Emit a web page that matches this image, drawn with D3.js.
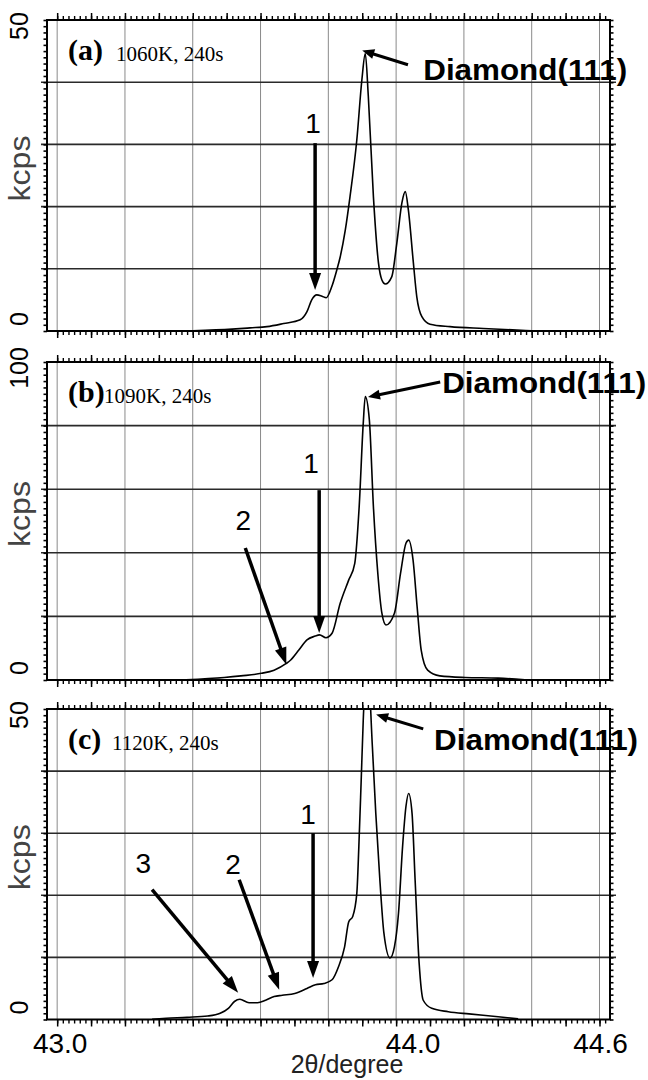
<!DOCTYPE html>
<html>
<head>
<meta charset="utf-8">
<script src="https://cdn.jsdelivr.net/npm/d3@7/dist/d3.min.js"></script>
<style>
  body { margin: 0; background: #fff; }
  text { font-family: "Liberation Sans", Arial, sans-serif; }
</style>
</head>
<body>
<script>
// XRD scans, 2theta (degree) vs intensity (kcps)
var twoThetaA = [43.40, 43.516, 43.569, 43.619, 43.668, 43.717, 43.737, 43.751, 43.766, 43.781, 43.794, 43.810, 43.825, 43.835, 43.850, 43.864, 43.884, 43.899, 43.909, 43.918, 43.933, 43.948, 43.958, 43.968, 43.987, 44.002, 44.017, 44.027, 44.036, 44.051, 44.061, 44.076, 44.100, 44.159, 44.257, 44.40];
var kcpsA = [0.05, 0.3, 0.5, 0.7, 1.2, 1.8, 3.1, 5.0, 5.8, 5.6, 5.35, 7.1, 9.8, 11.9, 16.2, 21.6, 30.7, 40.4, 44.6, 37.7, 21.6, 10.9, 8.2, 7.55, 8.7, 14.1, 20.6, 22.4, 19.5, 10.9, 5.5, 2.3, 1.1, 0.7, 0.4, 0.05];

var twoThetaB = [43.38, 43.493, 43.542, 43.603, 43.640, 43.676, 43.689, 43.713, 43.737, 43.761, 43.774, 43.793, 43.811, 43.835, 43.860, 43.878, 43.891, 43.903, 43.909, 43.921, 43.933, 43.946, 43.958, 43.970, 43.995, 44.013, 44.029, 44.037, 44.050, 44.062, 44.074, 44.093, 44.129, 44.203, 44.301, 44.38];
var kcpsB = [0.1, 0.8, 1.3, 2.1, 3.1, 5.2, 6.3, 9.4, 12.6, 13.8, 14.2, 13.3, 14.7, 24.1, 31.4, 36.7, 54.5, 80.7, 89.1, 81.8, 54.5, 33.5, 21, 17.3, 21, 33.5, 43, 44, 37.7, 23, 9.4, 3.1, 1.3, 0.8, 0.6, 0.1];

var twoThetaC = [43.28, 43.322, 43.383, 43.444, 43.481, 43.505, 43.523, 43.539, 43.566, 43.591, 43.615, 43.640, 43.664, 43.701, 43.737, 43.762, 43.787, 43.811, 43.830, 43.848, 43.860, 43.872, 43.884, 43.890, 43.897, 43.903, 43.915, 43.930, 43.940, 43.952, 43.964, 43.982, 43.995, 44.007, 44.019, 44.029, 44.037, 44.047, 44.056, 44.068, 44.080, 44.105, 44.154, 44.215, 44.301, 44.36];
var kcpsC = [0.05, 0.2, 0.35, 0.56, 1.0, 1.8, 2.9, 3.25, 2.7, 2.7, 3.1, 3.7, 3.9, 4.2, 5.0, 5.6, 5.8, 6.4, 8.5, 11.7, 15.7, 16.6, 20.3, 27.8, 38.6, 48.2, 58, 43.9, 33.2, 22.5, 13.9, 9.9, 11.7, 17.1, 27.8, 34.3, 36.4, 33.2, 22.5, 9.0, 3.1, 1.8, 1.26, 0.9, 0.45, 0.1];

var xTickLabels = ['43.0', '44.0', '44.6'];
var xTickValues = [43.0, 44.0, 44.6];
var xGrid = [43.0, 43.2, 43.4, 43.6, 43.8, 44.0, 44.2, 44.4, 44.6];
var panelLetters = ['(a)', '(b)', '(c)'];
var panelConditions = ['1060K, 240s', '1090K, 240s', '1120K, 240s'];
var yMaxLabels = ['50', '100', '50'];

var W = 648, H = 1080;
var svg = d3.select('body').append('svg').attr('width', W).attr('height', H);
var x = d3.scaleLinear().domain([42.97, 44.631]).range([47, 610]);

var panels = [
  {top: 20,  bottom: 331,  ymax: 50,  step: 1, xs: twoThetaA, ys: kcpsA, condX: 116,
   diamond: {from: [44.035, 42.8], to: [43.900, 45.1], text: [44.080, 40.3]},
   marks: [{n: '1', from: [43.761, 30.2], to: [43.761, 6.6], text: [43.755, 31.8]}]},
  {top: 362, bottom: 680,  ymax: 100, step: 2, xs: twoThetaB, ys: kcpsB, condX: 104,
   diamond: {from: [44.130, 93.7], to: [43.917, 89.0], text: [44.136, 90.2]},
   marks: [{n: '1', from: [43.773, 59.7], to: [43.773, 14.8], text: [43.749, 65.1]},
           {n: '2', from: [43.555, 41.5], to: [43.676, 4.9], text: [43.549, 47.2]}]},
  {top: 709, bottom: 1019.5, ymax: 50, step: 1, xs: twoThetaC, ys: kcpsC, condX: 112,
   diamond: {from: [44.080, 46.8], to: [43.941, 49.1], text: [44.112, 43.4]},
   marks: [{n: '1', from: [43.755, 30.0], to: [43.755, 6.7], text: [43.740, 31.5]},
           {n: '2', from: [43.537, 22.5], to: [43.655, 4.8], text: [43.519, 23.4]},
           {n: '3', from: [43.280, 20.9], to: [43.534, 4.3], text: [43.254, 23.6]}]}
];

var defs = svg.append('defs');

function arrow(g, x0, y0, x1, y1, width, headLen, headW) {
  var dx = x1 - x0, dy = y1 - y0, len = Math.sqrt(dx * dx + dy * dy);
  var ux = dx / len, uy = dy / len;
  var bx = x1 - ux * headLen, by = y1 - uy * headLen;
  g.append('line')
    .attr('x1', x0).attr('y1', y0)
    .attr('x2', bx + ux * 2).attr('y2', by + uy * 2)
    .attr('stroke', '#000').attr('stroke-width', width);
  g.append('path')
    .attr('d', 'M' + x1 + ',' + y1 +
      'L' + (bx - uy * headW / 2) + ',' + (by + ux * headW / 2) +
      'L' + (bx + uy * headW / 2) + ',' + (by - ux * headW / 2) + 'Z')
    .attr('fill', '#000');
}

panels.forEach(function(p, i) {
  var y = d3.scaleLinear().domain([0, p.ymax]).range([p.bottom, p.top]);
  var g = svg.append('g');
  var left = x.range()[0], right = x.range()[1];

  // vertical grid
  g.selectAll('.vg').data(xGrid).enter().append('line')
    .attr('x1', function(d) { return x(d); }).attr('x2', function(d) { return x(d); })
    .attr('y1', p.top).attr('y2', p.bottom)
    .attr('stroke', '#8a8a8a').attr('stroke-width', 1);

  // horizontal grid
  var hg = d3.range(1, 5).map(function(k) { return k * p.ymax / 5; });
  g.selectAll('.hg').data(hg).enter().append('line')
    .attr('x1', left - 6).attr('x2', right + 6)
    .attr('y1', function(d) { return y(d); }).attr('y2', function(d) { return y(d); })
    .attr('stroke', '#2a2a2a').attr('stroke-width', 1.6);

  // x ticks, top and bottom, outward
  var minor = d3.range(0, 98).map(function(k) { return 43 + k / 60; })
    .filter(function(d) { return d <= 44.625; });
  var major = d3.range(0, 17).map(function(k) { return 43 + k / 10; });
  [['bottom', d3.axisBottom, p.bottom], ['top', d3.axisTop, p.top]].forEach(function(s) {
    g.append('g').attr('transform', 'translate(0,' + s[2] + ')')
      .call(s[1](x).tickValues(minor).tickSize(4).tickFormat(''))
      .call(function(a) { a.select('.domain').remove(); a.selectAll('line').attr('stroke-width', 1.4); });
    g.append('g').attr('transform', 'translate(0,' + s[2] + ')')
      .call(s[1](x).tickValues(major).tickSize(7).tickFormat(''))
      .call(function(a) { a.select('.domain').remove(); a.selectAll('line').attr('stroke-width', 1.5); });
  });

  // y ticks left and right
  var yt = d3.range(0, p.ymax + 0.001, p.step);
  g.append('g').attr('transform', 'translate(' + left + ',0)')
    .call(d3.axisLeft(y).tickValues(yt).tickSize(3.5).tickFormat(''))
    .call(function(a) { a.select('.domain').remove(); a.selectAll('line').attr('stroke-width', 1.6); });
  g.append('g').attr('transform', 'translate(' + right + ',0)')
    .call(d3.axisRight(y).tickValues(yt).tickSize(3.5).tickFormat(''))
    .call(function(a) { a.select('.domain').remove(); a.selectAll('line').attr('stroke-width', 1.6); });

  // frame
  g.append('rect').attr('x', left).attr('y', p.top)
    .attr('width', right - left).attr('height', p.bottom - p.top)
    .attr('fill', 'none').attr('stroke', '#000').attr('stroke-width', 2);

  // curve
  defs.append('clipPath').attr('id', 'clip' + i).append('rect')
    .attr('x', left).attr('y', p.top).attr('width', right - left).attr('height', p.bottom - p.top);
  var line = d3.line()
    .x(function(d) { return x(d[0]); })
    .y(function(d) { return y(d[1]); })
    .curve(d3.curveMonotoneX);
  g.append('path')
    .datum(d3.zip(p.xs, p.ys))
    .attr('clip-path', 'url(#clip' + i + ')')
    .attr('d', line)
    .attr('fill', 'none').attr('stroke', '#000').attr('stroke-width', 1.6)
    .attr('stroke-linejoin', 'round');

  // y labels
  g.append('text')
    .attr('transform', 'translate(28,' + (p.top + 6) + ') rotate(-90)')
    .attr('text-anchor', 'middle').attr('font-size', 25).text(yMaxLabels[i]);
  g.append('text')
    .attr('transform', 'translate(28,' + (p.bottom - 12) + ') rotate(-90)')
    .attr('text-anchor', 'middle').attr('font-size', 25).text('0');
  g.append('text')
    .attr('transform', 'translate(30,' + ((p.top + p.bottom) / 2 - 7) + ') rotate(-90)')
    .attr('text-anchor', 'middle').attr('font-size', 29).attr('fill', '#444')
    .attr('textLength', 66).attr('lengthAdjust', 'spacingAndGlyphs').text('kcps');

  // panel caption
  g.append('text').attr('x', 68).attr('y', p.top + 40)
    .style('font-family', '"Liberation Serif", "Times New Roman", serif')
    .attr('font-size', 30).attr('font-weight', 'bold').text(panelLetters[i]);
  g.append('text').attr('x', p.condX).attr('y', p.top + 41)
    .style('font-family', '"Liberation Serif", "Times New Roman", serif')
    .attr('font-size', 21).text(panelConditions[i]);

  // Diamond(111) annotation
  var dm = p.diamond;
  arrow(g, x(dm.from[0]), y(dm.from[1]), x(dm.to[0]), y(dm.to[1]), 3, 12, 10);
  g.append('text').attr('x', x(dm.text[0])).attr('y', y(dm.text[1]))
    .attr('font-size', 29).attr('font-weight', 'bold')
    .attr('textLength', 204).attr('lengthAdjust', 'spacingAndGlyphs')
    .text('Diamond(111)');

  // numbered arrows
  p.marks.forEach(function(m) {
    arrow(g, x(m.from[0]), y(m.from[1]), x(m.to[0]), y(m.to[1]), 3.5, 17, 12);
    g.append('text').attr('x', x(m.text[0])).attr('y', y(m.text[1]))
      .attr('text-anchor', 'middle').attr('font-size', 28).text(m.n);
  });
});

// bottom axis labels
var labelDx = [3, 17, 1];
svg.selectAll('.xl').data(xTickValues).enter().append('text')
  .attr('x', function(d, i) { return x(d) + labelDx[i]; })
  .attr('y', 1053)
  .attr('text-anchor', 'middle').attr('font-size', 28)
  .text(function(d, i) { return xTickLabels[i]; });
svg.append('text').attr('x', 347).attr('y', 1073)
  .attr('text-anchor', 'middle').attr('font-size', 25).attr('fill', '#222')
  .text('2\u03b8/degree');
</script>
</body>
</html>
